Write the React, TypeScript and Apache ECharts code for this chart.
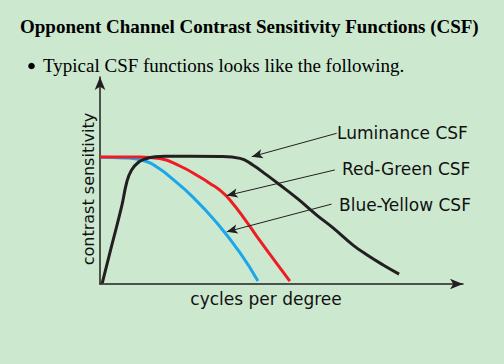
import React, { useEffect, useRef } from "react";
import * as echarts from "echarts";

// Curves: [cycles per degree (relative), contrast sensitivity (relative)]
const luminanceCSF: [number, number][] = [
  [0.6, 0.3], [3.2, 18.4], [6, 37.7], [7.4, 49.4], [8.7, 55.1], [10.6, 58.8],
  [12.4, 60.4], [15.2, 61.5], [17.9, 61.7], [25, 61.7], [33.1, 61.6],
  [38.6, 60.7], [42.1, 57.5], [45.9, 52.7], [49.6, 47.8], [54.5, 41.1],
  [59.7, 33.3], [64.2, 27.1], [69.7, 18.8], [73.6, 14.0], [78.0, 9.2], [82.4, 4.8],
];
const redGreenCSF: [number, number][] = [
  [0, 61.4], [11, 61.4], [16.5, 60.6], [22, 57], [27.5, 51.7], [30.3, 48.6],
  [33.1, 45.2], [35.8, 40.6], [40.4, 30.0], [44.1, 20.8], [48.2, 11.1], [52.3, 1.4],
];
const blueYellowCSF: [number, number][] = [
  [0, 61.2], [6.9, 60.9], [12.4, 59.4], [16.5, 55.6], [19.3, 51.7], [25.6, 42],
  [32.2, 29.5], [38.6, 15], [43.5, 1.4],
];

const labels = ["Luminance CSF", "Red-Green CSF", "Blue-Yellow CSF"];
const arrowStarts: [number, number][] = [[65.2, 72.8], [64.7, 55.1], [63.8, 38.6]];
const arrowEnds: [number, number][] = [[41.8, 61.5], [34.9, 42.7], [34.9, 25.2]];

const title = "Opponent Channel Contrast Sensitivity Functions (CSF)";
const bulletText = "Typical CSF functions looks like the following.";
const xName = "cycles per degree";
const yName = "contrast sensitivity";

const BG = "#cce8cf";
const INK = "#231f20";

export default function App() {
  const ref = useRef<HTMLDivElement>(null);
  useEffect(() => {
    if (!ref.current) return;
    const chart = echarts.init(ref.current, null, { renderer: "svg" });
    const sans = "DejaVu Sans";
    const serif = "Liberation Serif";
    const labelY = [133, 168.5, 204.5];
    const labelX = [337, 342, 339];
    const axisLine = {
      show: true,
      symbol: ["none", "arrow"],
      symbolSize: [8, 13],
      symbolOffset: [0, 0],
      lineStyle: { color: INK, width: 1.5 },
    };
    chart.setOption({
      animation: false,
      backgroundColor: BG,
      grid: { left: 100, top: 77, width: 363, height: 207 },
      xAxis: {
        type: "value",
        min: 0,
        max: 100,
        axisLine,
        axisTick: { show: false },
        axisLabel: { show: false },
        splitLine: { show: false },
      },
      yAxis: {
        type: "value",
        min: 0,
        max: 100,
        axisLine,
        axisTick: { show: false },
        axisLabel: { show: false },
        splitLine: { show: false },
      },
      series: [
        {
          type: "line",
          name: labels[2],
          data: blueYellowCSF,
          smooth: 0.5,
          showSymbol: false,
          lineStyle: { color: "#1aa7ec", width: 3 },
          silent: true,
        },
        {
          type: "line",
          name: labels[1],
          data: redGreenCSF,
          smooth: 0.5,
          showSymbol: false,
          lineStyle: { color: "#ee1c25", width: 3 },
          silent: true,
        },
        {
          type: "line",
          name: labels[0],
          data: luminanceCSF,
          smooth: 0.45,
          showSymbol: false,
          lineStyle: { color: INK, width: 3 },
          silent: true,
          markLine: {
            silent: true,
            symbol: ["none", "arrow"],
            symbolSize: [7, 11],
            label: { show: false },
            lineStyle: { color: INK, width: 1, type: "solid" },
            data: arrowStarts.map((s, i) => [
              { coord: s },
              { coord: arrowEnds[i] },
            ]),
          },
        },
      ],
      graphic: [
        {
          type: "text",
          left: 20,
          top: 17,
          style: { text: title, font: `bold 19px "${serif}"`, fill: "#000" },
        },
        {
          type: "circle",
          shape: { cx: 31.5, cy: 66, r: 3.3 },
          style: { fill: "#000" },
        },
        {
          type: "text",
          x: 43,
          y: 65,
          style: { text: bulletText, font: `19px "${serif}"`, fill: "#000", verticalAlign: "middle" },
        },
        ...labels.map((t, i) => ({
          type: "text",
          x: labelX[i],
          y: labelY[i],
          style: { text: t, font: `17px "${sans}"`, fill: "#111", verticalAlign: "middle" },
        })),
        {
          type: "text",
          x: 266,
          y: 299,
          style: { text: xName, font: `17px "${sans}"`, fill: "#111", align: "center", verticalAlign: "middle" },
        },
        {
          type: "text",
          x: 88,
          y: 189,
          rotation: Math.PI / 2,
          style: { text: yName, font: `16px "${sans}"`, fill: "#111", align: "center", verticalAlign: "middle" },
        },
      ],
    });
    return () => chart.dispose();
  }, []);
  return (
    <div
      ref={ref}
      style={{ position: "fixed", left: 0, top: 0, width: 504, height: 364 }}
    />
  );
}
